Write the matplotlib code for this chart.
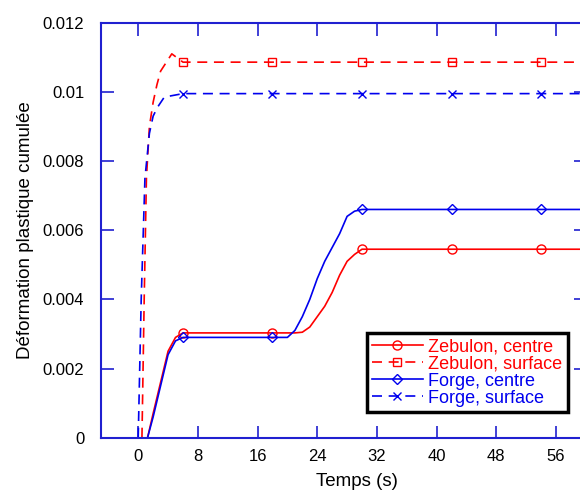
import matplotlib
matplotlib.use("Agg")
import matplotlib.pyplot as plt

plt.rcParams['font.family'] = ['Liberation Sans', 'DejaVu Sans']

# Zebulon, centre
zc_t = [1.25, 2, 3, 4, 5, 6, 18, 21, 22, 23, 24, 25, 26, 27, 28, 29, 30, 42, 54, 60]
zc_y = [0, 0.0007, 0.0016, 0.0025, 0.0029, 0.00303, 0.00303, 0.00303, 0.00305, 0.0032,
        0.0035, 0.0038, 0.0042, 0.0047, 0.0051, 0.0053, 0.00545, 0.00545, 0.00545, 0.00545]
# Zebulon, surface
zs_t = [0.5, 0.8, 1.1, 1.5, 2, 2.5, 3, 4.5, 6, 18, 30, 42, 54, 60]
zs_y = [0, 0.004, 0.0075, 0.0090, 0.0097, 0.0102, 0.0106, 0.0111, 0.01086, 0.01086,
        0.01086, 0.01086, 0.01086, 0.01086]
# Forge, centre
fc_t = [1.25, 2, 3, 4, 5, 6, 18, 20, 21, 22, 23, 24, 25, 26, 27, 28, 29, 30, 42, 54, 60]
fc_y = [0, 0.0006, 0.0015, 0.0024, 0.0028, 0.0029, 0.0029, 0.0029, 0.0031, 0.0035, 0.0040,
        0.0046, 0.0051, 0.0055, 0.0059, 0.0064, 0.00655, 0.0066, 0.0066, 0.0066, 0.0066]
# Forge, surface
fs_t = [0, 0.4, 0.9, 1.5, 2, 2.6, 3.5, 6, 18, 30, 42, 54, 60]
fs_y = [0, 0.004, 0.0075, 0.0088, 0.0093, 0.00956, 0.00985, 0.00995, 0.00995, 0.00995,
        0.00995, 0.00995, 0.00995]

mark_t = [6, 18, 30, 42, 54]

xticks = [0, 8, 16, 24, 32, 40, 48, 56]
yticks = [0, 0.002, 0.004, 0.006, 0.008, 0.01, 0.012]
ylabels = ['0', '0.002', '0.004', '0.006', '0.008', '0.01', '0.012']

fig = plt.figure(figsize=(5.8, 4.94), dpi=100)
ax = fig.add_axes([0.174, 0.114, 0.836, 0.840])

red = '#ff0000'
blue = '#0000ee'


def marks(t):
    return [i for i, v in enumerate(t) if v in mark_t]


l1, = ax.plot(zc_t, zc_y, '-', color=red, lw=1.2, marker='o', ms=6.5, mfc='none',
              markevery=marks(zc_t), label='Zebulon, centre')
l2, = ax.plot(zs_t, zs_y, '--', color=red, lw=1.2, marker='s', ms=6, mfc='none',
              dashes=(6, 4), markevery=marks(zs_t), label='Zebulon, surface')
l3, = ax.plot(fc_t, fc_y, '-', color=blue, lw=1.2, marker='D', ms=5, mfc='none',
              markevery=marks(fc_t), label='Forge, centre')
l4, = ax.plot(fs_t, fs_y, '--', color=blue, lw=1.2, marker='x', ms=6,
              dashes=(6, 4), markevery=marks(fs_t), label='Forge, surface')

ax.set_xlim(-5, 60)
ax.set_ylim(0, 0.012)
ax.set_xticks(xticks)
ax.set_yticks(yticks)
ax.set_yticklabels(ylabels)
ax.tick_params(direction='in', length=9, width=1.2, color='#2020d0', labelsize=12,
               top=True, right=True)
ax.tick_params(axis='x', pad=8)
ax.tick_params(axis='y', pad=12)
for s in ax.spines.values():
    s.set_color('#2020d0')
    s.set_linewidth(1.5)

ax.set_xlabel('Temps (s)', fontsize=13.5)
ax.xaxis.set_label_coords(0.529, -0.085)
ax.set_ylabel('Déformation plastique cumulée', fontsize=13.5)
ax.yaxis.set_label_coords(-0.138, 0.5)

leg = ax.legend(loc='upper left', bbox_to_anchor=(0.548, 0.252), fontsize=13,
                fancybox=False, framealpha=1, edgecolor='black', handlelength=2.8,
                handletextpad=0.3, borderpad=0.3, labelspacing=0.0, borderaxespad=0)
leg.get_frame().set_linewidth(2.5)
for txt, ln in zip(leg.get_texts(), [l1, l2, l3, l4]):
    txt.set_color(ln.get_color())

fig.savefig('out.png', dpi=100)
